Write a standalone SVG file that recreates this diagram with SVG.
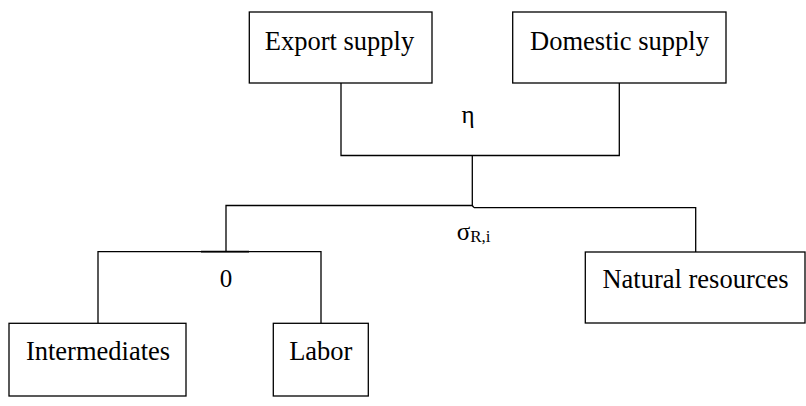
<svg xmlns="http://www.w3.org/2000/svg" width="806" height="406" viewBox="0 0 806 406">
<style>
.box{fill:#fff;stroke:#000;stroke-width:1.3}
.t{font-family:"Liberation Serif","Times New Roman",serif;font-size:26.5px;fill:#000;text-anchor:middle}
.lbl{font-family:"Liberation Serif","Times New Roman",serif;font-size:25px;fill:#000}
.ln{fill:none;stroke:#000;stroke-width:1.3}
</style>
<rect width="806" height="406" fill="#fff"/>
<g id="connectors">
<polyline class="ln" points="341,83 341,155.5 619.3,155.5 619.3,83"/>
<polyline class="ln" points="472.3,155.5 472.3,205.5 226,205.5 226,251.7"/>
<polyline class="ln" points="474,207.7 695.7,207.7 695.7,252"/>
<line class="ln" x1="472.3" y1="205.5" x2="474" y2="207.7"/>
<polyline class="ln" points="98,323 98,251.7 321,251.7 321,323"/>
<line x1="201" y1="251.7" x2="249" y2="251.7" stroke="#000" stroke-width="1.7"/>
<text class="lbl" x="468" y="123" text-anchor="middle">η</text>
<text class="lbl" x="456.7" y="240">σ<tspan font-size="17" dy="2">R,i</tspan></text>
<text class="lbl" x="226" y="287" text-anchor="middle">0</text>
</g>
<g id="export-supply">
<rect class="box" x="249.3" y="12" width="182.7" height="71"/>
<text class="t" x="339.5" y="50">Export supply</text>
</g>
<g id="domestic-supply">
<rect class="box" x="512.7" y="12" width="213.3" height="71"/>
<text class="t" x="619.5" y="50">Domestic supply</text>
</g>
<g id="natural-resources">
<rect class="box" x="585.3" y="252" width="219.7" height="71"/>
<text class="t" x="695.5" y="288">Natural resources</text>
</g>
<g id="intermediates">
<rect class="box" x="9" y="323.3" width="177" height="72.7"/>
<text class="t" x="98" y="360">Intermediates</text>
</g>
<g id="labor">
<rect class="box" x="273.3" y="323.3" width="95" height="72.7"/>
<text class="t" x="320.8" y="360">Labor</text>
</g>
</svg>
